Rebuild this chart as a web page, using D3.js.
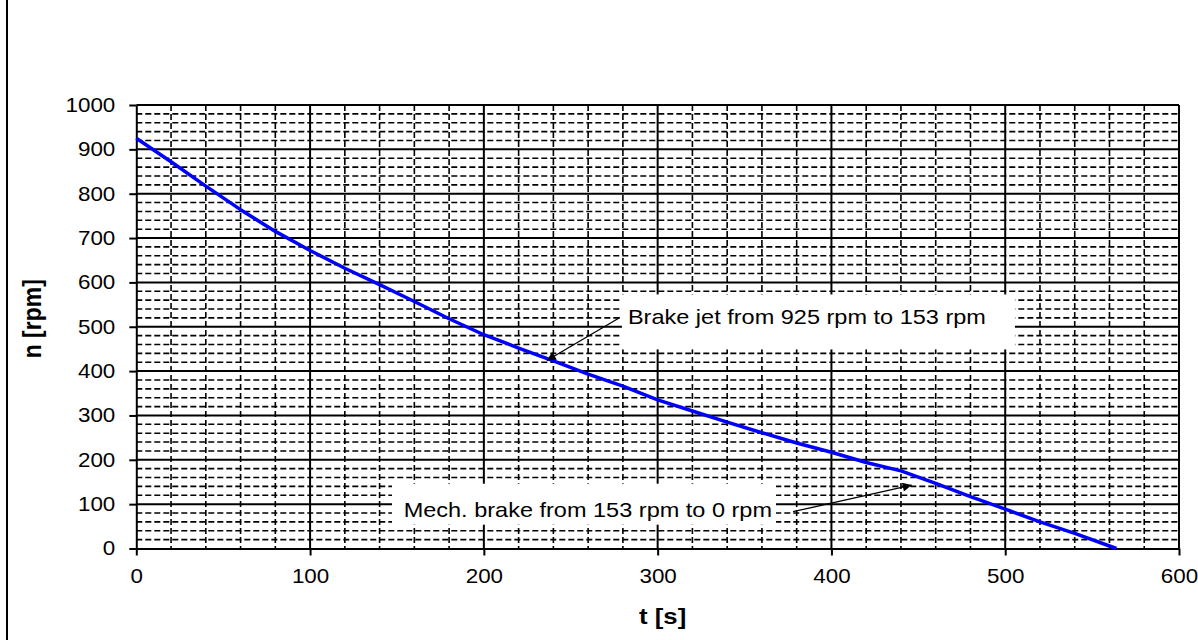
<!DOCTYPE html>
<html>
<head>
<meta charset="utf-8">
<script src="https://cdn.jsdelivr.net/npm/d3@7"></script>
<style>
  body { margin: 0; background: #fff; }
  text { font-family: "Liberation Sans", Arial, sans-serif; fill: #000; }
</style>
</head>
<body>
<div id="chart"></div>
<script>
// speed curve of the runner after shutdown
var timeS = [0, 20, 40, 60, 80, 100, 120, 140, 160, 180, 200, 220, 240, 260, 280, 300,
             320, 340, 360, 380, 400, 420, 440, 460, 480, 500, 520, 540, 564];
var speedRpm = [925, 872, 817, 764, 715, 672, 632, 595, 557, 518, 482, 452, 423, 393, 366, 335,
                310, 285, 261, 238, 217, 194, 175, 147, 117, 89, 60, 34, 0];

var xTicks = [0, 100, 200, 300, 400, 500, 600];
var yTicks = [0, 100, 200, 300, 400, 500, 600, 700, 800, 900, 1000];

var annoText = ["Brake jet from 925 rpm to 153 rpm", "Mech. brake from 153 rpm to 0 rpm"];
var annoTip = [[236.2, 424], [446.2, 143]];   // [t, n] where the arrow points
var annoTail = [[278.3, 521], [377.9, 83]];   // [t, n] where the arrow starts

var W = 1198, H = 640;
var margin = {top: 105, right: 19, bottom: 91.5, left: 136.3},
    width = W - margin.left - margin.right,
    height = H - margin.top - margin.bottom;
var stretch = 1.12; // text in the picture is a bit wide

var x = d3.scaleLinear().domain([0, 600]).range([0, width]);
var y = d3.scaleLinear().domain([0, 1000]).range([height, 0]);

var root = d3.select("#chart").append("svg")
    .attr("width", W)
    .attr("height", H);

root.append("rect").attr("width", W).attr("height", H).attr("fill", "#fff");

// left frame line
root.append("line")
    .attr("x1", 7).attr("x2", 7)
    .attr("y1", 0).attr("y2", H)
    .attr("stroke", "#000").attr("stroke-width", 2);

var svg = root.append("g")
    .attr("transform", "translate(" + margin.left + "," + margin.top + ")");

// minor dashed grid every 20
var minorX = d3.range(20, 600, 20).filter(function(d) { return d % 100 != 0; });
var minorY = d3.range(20, 1000, 20).filter(function(d) { return d % 100 != 0; });

svg.selectAll(".minor-h").data(minorY).enter().append("line")
    .attr("x1", 0).attr("x2", width)
    .attr("y1", function(d) { return y(d); })
    .attr("y2", function(d) { return y(d); })
    .attr("stroke", "#000").attr("stroke-width", 1.6)
    .attr("stroke-dasharray", "6,3");

svg.selectAll(".minor-v").data(minorX).enter().append("line")
    .attr("y1", 0).attr("y2", height)
    .attr("x1", function(d) { return x(d); })
    .attr("x2", function(d) { return x(d); })
    .attr("stroke", "#000").attr("stroke-width", 1.6)
    .attr("stroke-dasharray", "6,3");

// major solid grid every 100
svg.selectAll(".major-h").data(yTicks.slice(1)).enter().append("line")
    .attr("x1", 0).attr("x2", width)
    .attr("y1", function(d) { return y(d); })
    .attr("y2", function(d) { return y(d); })
    .attr("stroke", "#000").attr("stroke-width", 2);

svg.selectAll(".major-v").data(xTicks.slice(1)).enter().append("line")
    .attr("y1", 0).attr("y2", height)
    .attr("x1", function(d) { return x(d); })
    .attr("x2", function(d) { return x(d); })
    .attr("stroke", "#000").attr("stroke-width", 2);

// axes
var xAxis = d3.axisBottom(x).tickValues(xTicks).tickFormat(d3.format("d"))
    .tickSize(7).tickPadding(13).tickSizeOuter(0);
var yAxis = d3.axisLeft(y).tickValues(yTicks).tickFormat(d3.format("d"))
    .tickSize(7).tickPadding(14).tickSizeOuter(0);

var gx = svg.append("g")
    .attr("transform", "translate(0," + height + ")")
    .call(xAxis);
var gy = svg.append("g").call(yAxis);

[gx, gy].forEach(function(g) {
    g.select(".domain").attr("stroke", "#000").attr("stroke-width", 2);
    g.selectAll(".tick line").attr("stroke", "#000").attr("stroke-width", 2);
    g.selectAll(".tick text")
        .style("font-size", "20px")
        .attr("fill", "#000");
});

gy.selectAll(".tick text")
    .attr("x", null)
    .attr("transform", "translate(-21,0) scale(" + stretch + ",1)");
gx.selectAll(".tick text")
    .attr("transform", "scale(" + stretch + ",1)");

// axis titles
svg.append("text")
    .attr("text-anchor", "middle")
    .attr("transform", "translate(" + (width / 2 + 5) + "," + (height + 75) + ") scale(" + stretch + ",1)")
    .style("font-size", "23px")
    .style("font-weight", "bold")
    .text("t [s]");

svg.append("text")
    .attr("text-anchor", "middle")
    .attr("transform", "translate(" + (41 - margin.left) + "," + (height / 2 - 8) + ") scale(" + stretch + ",1) rotate(-90)")
    .style("font-size", "23px")
    .style("font-weight", "bold")
    .text("n [rpm]");

// speed curve
var line = d3.line()
    .x(function(d, i) { return x(timeS[i]); })
    .y(function(d) { return y(d); });

svg.append("path")
    .datum(speedRpm)
    .attr("fill", "none")
    .attr("stroke", "#0000ff")
    .attr("stroke-width", 3.5)
    .attr("stroke-linejoin", "round")
    .attr("d", line);

// arrow head
root.append("defs").append("marker")
    .attr("id", "arrow")
    .attr("viewBox", "0 0 10 10")
    .attr("refX", 10).attr("refY", 5)
    .attr("markerWidth", 12).attr("markerHeight", 9)
    .attr("markerUnits", "userSpaceOnUse")
    .attr("orient", "auto")
    .append("path")
    .attr("d", "M0,0L10,5L0,10Z")
    .attr("fill", "#000");

// annotations
annoText.forEach(function(txt, i) {
    var tx = x(annoTail[i][0]), ty = y(annoTail[i][1]);
    var bx, by, bw, bh, textX, textY, anchor;
    if (i == 0) {
        bw = 393; bh = 55;
        bx = tx + 2; by = ty - 23;
        textX = bx + 6; textY = by + 29.5; anchor = "start";
    } else {
        bw = 384; bh = 41;
        bx = tx - 17 - bw; by = ty - 28;
        textX = bx + bw - 4; textY = by + 33; anchor = "end";
    }
    svg.append("rect")
        .attr("x", bx).attr("y", by)
        .attr("width", bw).attr("height", bh)
        .attr("fill", "#fff");

    svg.append("text")
        .attr("text-anchor", anchor)
        .attr("transform", "translate(" + textX + "," + textY + ") scale(" + stretch + ",1)")
        .style("font-size", "21px")
        .text(txt);

    svg.append("line")
        .attr("x1", tx).attr("y1", ty)
        .attr("x2", x(annoTip[i][0])).attr("y2", y(annoTip[i][1]))
        .attr("stroke", "#000").attr("stroke-width", 1.3)
        .attr("marker-end", "url(#arrow)");
});
</script>
</body>
</html>
